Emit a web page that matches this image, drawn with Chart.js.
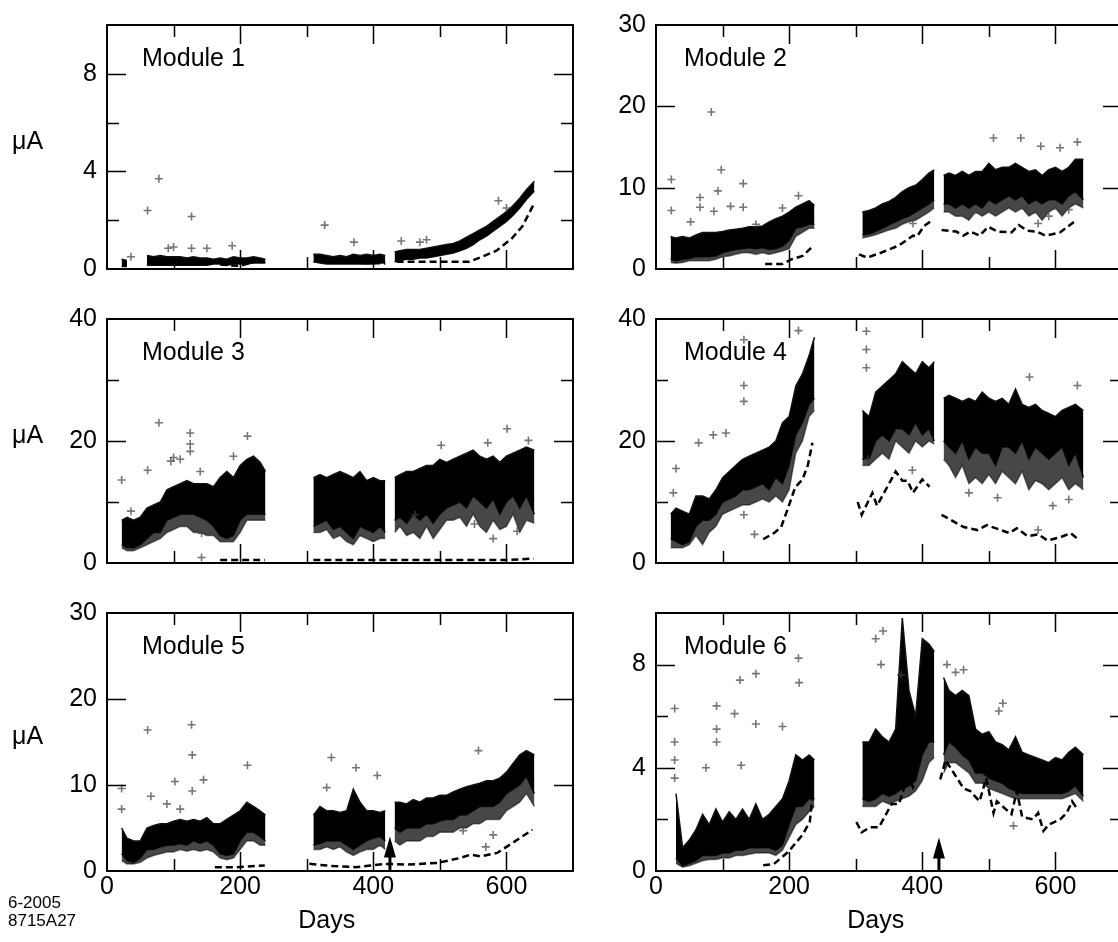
<!DOCTYPE html>
<html>
<head>
<meta charset="utf-8">
<script src="https://cdn.jsdelivr.net/npm/chart.js@4.4.1/dist/chart.umd.min.js"></script>
<style>
  html, body { margin: 0; padding: 0; background: #fff; overflow: hidden; }
  #wrap { position: relative; width: 1118px; height: 942px; overflow: hidden; }
  #wrap canvas { position: absolute; }
</style>
</head>
<body>
<div id="wrap"></div>
<script>
// sampling days for the dense bands (270 and 425 are gaps in the data)
const days = [22,30,40,50,60,70,80,90,100,110,120,130,140,150,160,170,180,190,200,210,220,230,238,
  270,
  310,320,330,340,350,360,370,380,390,400,410,418,
  425,
  432,440,450,460,470,480,490,500,510,520,530,540,550,560,570,580,590,600,610,620,630,642];

// Module 1
const m1Lo = [0.1,0.1,null,null,0.15,0.15,0.15,0.15,0.15,0.15,0.15,0.15,0.15,0.15,0.2,0.2,0.15,0.2,0.2,0.2,0.25,0.25,0.25,
  null,
  0.3,0.25,0.2,0.2,0.2,0.2,0.2,0.2,0.2,0.2,0.25,0.25,
  null,
  0.3,0.35,0.4,0.4,0.45,0.45,0.5,0.55,0.6,0.65,0.75,0.85,1.0,1.2,1.35,1.55,1.75,1.95,2.2,2.5,2.85,3.2];
const m1Hi = [0.4,0.35,null,null,0.55,0.5,0.55,0.5,0.5,0.5,0.45,0.5,0.45,0.45,0.4,0.45,0.4,0.5,0.45,0.45,0.5,0.45,0.4,
  null,
  0.6,0.6,0.55,0.5,0.55,0.5,0.6,0.55,0.6,0.55,0.6,0.55,
  null,
  0.7,0.75,0.8,0.8,0.8,0.85,0.9,0.95,1.0,1.05,1.15,1.3,1.45,1.6,1.75,1.95,2.15,2.35,2.6,2.9,3.25,3.6];
const m1Dip = null;
const m1OutDays = [61,78,127,92,100,127,150,188,327,371,442,588,600,36,470,480];
const m1OutVals = [2.4,3.7,2.15,0.85,0.9,0.85,0.85,0.95,1.8,1.1,1.15,2.8,2.5,0.5,1.1,1.2];
const m1DashDays = [170,185,200,215,236,270,318,330,345,360,380,400,418,425,435,460,490,520,544,563,585,608,624,640];
const m1DashVals = [0.18,0.15,0.13,0.25,0.4,null,0.33,0.4,0.35,0.3,0.25,0.25,0.22,null,0.3,0.3,0.3,0.3,0.3,0.5,0.75,1.25,1.75,2.6];

// Module 2
const m2Lo = [1.2,1.0,1.2,1.3,1.5,1.5,1.5,1.6,2.0,2.2,2.4,2.5,2.6,2.5,2.6,2.4,2.5,2.8,3.5,5.0,5.2,5.5,5.5,
  null,
  4.2,4.3,4.6,5.0,5.4,5.8,6.2,6.5,7.0,7.5,8.0,8.5,
  null,
  8.0,8.0,7.5,8.0,7.5,8.0,7.5,8.5,8.0,8.5,9.0,8.5,9.0,8.0,8.5,8.0,8.5,8.5,8.0,9.0,9.5,8.5];
const m2Hi = [4.0,3.8,4.0,3.8,4.2,4.5,4.5,4.5,4.6,4.8,4.9,5.0,5.2,5.2,5.3,5.8,6.2,6.5,7.0,7.6,8.0,8.4,7.8,
  null,
  7.0,7.2,7.5,8.0,8.3,8.8,9.5,10.0,10.3,11.0,11.8,12.2,
  null,
  11.5,11.8,11.5,12.0,11.5,12.0,12.0,13.0,12.2,12.5,12.5,13.0,12.5,12.0,12.2,11.5,12.2,12.5,12.0,12.5,13.5,13.5];
const m2Dip = [0.8,0.7,0.8,1.0,1.0,1.0,1.0,1.2,1.5,1.6,1.8,2.0,2.0,1.8,2.0,1.8,2.0,2.2,2.5,4.0,4.5,5.0,5.0,
  null,
  3.8,4.0,4.2,4.5,4.8,5.0,5.5,5.8,6.0,6.5,7.0,7.5,
  null,
  7.0,7.0,6.5,6.5,6.0,7.0,6.5,7.0,6.5,7.0,7.5,7.0,7.5,6.5,7.0,6.0,7.0,7.5,6.5,7.5,8.0,7.5];
const m2OutDays = [23,23,83,98,93,66,66,87,112,131,131,150,190,214,507,548,578,607,633,556,574,590,620,386,52];
const m2OutVals = [11,7.2,19.3,12.2,9.6,8.8,7.6,7.1,7.7,10.5,7.6,5.5,7.5,9,16.1,16.1,15.1,14.9,15.6,7.5,5.6,6.5,7.3,5.6,5.8];
const m2DashDays = [164,190,204,220,233,270,305,317,338,365,386,392,403,413,420,429,451,462,472,486,499,513,534,545,558,572,585,607,628];
const m2DashVals = [0.6,0.6,1.2,1.6,2.6,null,1.8,1.4,2.0,2.9,4.1,4.0,5.3,5.9,null,4.8,4.6,4.1,4.6,4.1,5.2,4.6,4.5,5.4,4.7,4.6,4.1,4.5,5.8];

// Module 3
const m3Lo = [3,2.5,2.5,3,4,5,5,7,7.5,8,8,8,7.5,7,6,4.5,4,4.5,7,8,8,8,8,
  null,
  6,6.5,7,5.5,6,5,4,6,5.5,5,6,5,
  null,
  7,7.5,6.5,8,7,8,6.5,8,9,9.5,10,9,11,10,9,10.5,8,10,11,9,11,8];
const m3Hi = [7,7.5,7,7.5,9,9.5,10,12,12.5,13,13.5,13,13,13,12.5,14,15,14,16,17,17.5,16.5,15,
  null,
  14,14.5,14,14.5,15,14.5,14,15,13.5,14,13.5,13.5,
  null,
  14,14.5,15,15,15.5,16,16,17,16.5,17,17.5,18,18.5,17.5,17,17.5,16.5,17.5,18,18.5,19,18.5];
const m3Dip = [2.5,2,2,2.5,3,3.5,4,5,5.5,6,6,5,5,4.5,4.5,3.5,3.5,3.5,5,7,7,7,7,
  null,
  5,5,5.5,4,4.5,3.5,3,4.5,4,3.5,4,4,
  null,
  5,6,4.5,5,4,6,4,5.5,7,7,7.5,6,8,6,5,7,5.5,6,8,5,7,6.5];
const m3OutDays = [22,78,61,96,125,125,125,140,211,36,142,142,502,572,601,633,552,580,616,463,110,190,100];
const m3OutVals = [13.6,23,15.2,16.7,21.3,19.5,18.3,15,20.8,8.5,4.9,0.9,19.3,19.7,22,20.1,6.4,4,5.2,7.9,17,17.5,17.3];
const m3DashDays = [170,237,270,310,400,500,600,620,641];
const m3DashVals = [0.5,0.5,null,0.5,0.5,0.5,0.5,0.6,0.75];

// Module 4
const m4Lo = [4,3.5,3,3.5,6,7,7,8,10,10.5,11,12,12,12.5,13,12,14,13,16,21,23,26,27,
  null,
  17,17,20,21,20,22,22,21,23,21,22,20,
  null,
  20,19,18,20,17,19,18,18,16,19,19,18,20,17,19,18,17,18,19,16,18,14];
const m4Hi = [8,9,8.5,8,11,11,10.5,12,14,15,16,17,17.5,18,18.5,19,20,23,24,29,31,34,37,
  null,
  25,24,28,29,30,31,33,32,31,33,32,33,
  null,
  27,27.5,27,26.5,27,26.5,28,27,26.5,27,26,28.5,26,25.5,26,25,24.5,24,25,25.5,26,25];
const m4Dip = [2.5,2.5,2.5,3,4.5,3,5,6,8,8.5,9,9.5,9.5,10,10.5,10,11,10,12,18,20,24,25,
  null,
  16,16,17,18,17,20,19,18,20,19,20,19.5,
  null,
  17,16,14,16,13,14,13,14.5,13,15,14,13,15,12,13.5,13,12,13,14,12,13,12];
const m4OutDays = [30,26,64,86,105,132,132,132,148,132,214,385,561,633,470,513,574,596,620,316,316,316,318];
const m4OutVals = [15.5,11.5,19.7,21,21.3,36.6,29.1,26.5,4.7,7.9,38.1,15.2,30.5,29.1,11.5,10.7,5.4,9.4,10.4,38,35,32,17];
const m4DashDays = [161,177,188,199,209,220,228,235,270,303,309,325,332,360,370,378,386,400,411,420,429,462,483,497,531,542,558,574,588,607,623,633];
const m4DashVals = [3.9,4.9,5.9,9.2,12.4,13.7,16,19.7,null,10,7.9,11.5,9.4,15,13.5,13.5,11.5,13.7,12.5,null,7.9,5.9,5.4,6.2,4.9,5.7,4.4,4.7,3.7,4.2,4.9,4.0];

// Module 5
const m5Lo = [2,1.2,1,1.5,2.5,2.5,2.8,3,3,3.2,3,3.5,3.2,3.5,3,2,1.8,2,3.5,4.5,4.5,4,3.5,
  null,
  3,3.2,3.5,3.5,3.5,3,2.5,3,3.5,3.8,4,3.5,
  null,
  5,4.5,5,5,5,5.5,5.5,5.8,6,6,6.5,6.5,7,7.5,7.5,7.5,8,9,9.5,10,11,9];
const m5Hi = [5,3.8,3.5,3.5,5,5.3,5.5,5.5,5.8,6,5.8,6,5.8,6.2,5.5,5.5,6,6.5,7,8,7.5,7,6.5,
  null,
  6.5,7.5,7,7,6.8,7,9.5,8,7,7,6.8,7,
  null,
  8,8,7.8,8.3,8,8.5,8.5,8.8,8.8,9.2,9.5,9.8,10,10.2,10.5,10.5,10.8,11.5,12.5,13.5,14,13.5];
const m5Dip = [1.2,0.8,0.8,1,1.5,1.8,2,2.2,2.2,2.5,2.3,2.5,2.3,2.5,2.2,1.5,1.3,1.5,2.5,3.5,3.5,3,3,
  null,
  2.5,2.5,2.8,2.5,2.8,2.2,1.8,2.2,2.5,2.5,3,2.5,
  null,
  3.5,3,3.5,3.5,3.5,4,4,4.5,4.5,4.5,5,5,5.5,5.5,6,6,6,7,7.5,8,9,7.5];
const m5OutDays = [22,22,61,127,128,128,102,145,66,211,337,330,374,406,558,535,569,580,90,110];
const m5OutVals = [9.6,7.2,16.4,17,13.5,9.3,10.4,10.6,8.7,12.3,13.2,9.7,12,11.1,14,4.7,2.8,4.2,7.8,7.2];
const m5DashDays = [162,195,237,270,304,340,374,396,418,452,496,530,546,561,586,608,639];
const m5DashVals = [0.45,0.45,0.64,null,0.83,0.57,0.45,0.64,0.83,0.75,0.94,1.5,1.9,1.7,2.1,3.2,4.8];

// Module 6
const m6Lo = [null,0.5,0.2,0.3,0.4,0.6,0.6,0.6,0.7,0.7,0.8,0.8,0.9,0.9,0.9,0.9,0.8,1,1.8,2.5,2.5,2.8,2.8,
  null,
  2.8,2.7,2.8,3,2.9,3,3.2,3.3,3.5,4.5,5,5,
  null,
  4.5,5,4.8,4.5,4.3,3.8,3.8,3.6,3.5,3.4,3.2,3.1,3,3,3,3,3,3,3,3.1,3.3,2.9];
const m6Hi = [null,3.0,0.9,1.2,1.6,2.2,1.8,2.4,1.9,2.3,2,2.4,2,2.6,2,2.2,2.5,2.8,3.5,4.5,4.3,4.5,4.3,
  null,
  5,5,5.5,5.2,5,5.5,9.8,7,6,9,8.8,8.5,
  null,
  7.5,7,6.8,7,6.8,5.5,5.3,5.4,5,4.9,4.7,5.2,4.6,4.5,4.4,4.3,4.2,4.4,4.3,4.6,4.8,4.5];
const m6Dip = [null,0.3,0.15,0.2,0.3,0.4,0.45,0.45,0.5,0.5,0.6,0.6,0.65,0.7,0.7,0.7,0.6,0.8,1.3,1.8,2,2.3,2.5,
  null,
  2.5,2.5,2.5,2.7,2.6,2.7,2.8,2.9,3.1,3.5,4.2,4.4,
  null,
  3.8,4.2,4.2,4,3.8,3.4,3.4,3.2,3.1,3.0,2.9,2.8,2.8,2.8,2.8,2.8,2.8,2.8,2.8,2.9,3,2.7];
const m6OutDays = [28,28,28,28,75,91,91,91,118,126,150,150,214,215,190,128,341,330,338,368,437,521,537,462,515,450];
const m6OutVals = [3.6,4.3,5.0,6.3,4,6.4,5.5,5,6.1,7.4,7.65,5.7,8.25,7.3,5.6,4.1,9.3,9.0,8.0,7.6,8.0,6.5,1.75,7.8,6.2,7.7];
const m6DashDays = [161,177,199,220,231,236,270,301,309,322,335,354,365,378,386,397,405,413,420,427,435,462,472,486,496,507,512,534,542,550,566,574,582,590,607,617,625,633];
const m6DashVals = [0.22,0.27,0.75,1.4,1.9,3.1,null,1.9,1.5,1.7,1.7,2.6,2.6,3.65,3.25,4.75,4.8,5.4,null,3.55,4.3,3.2,3.1,2.7,3.6,2.25,2.7,2.2,3.1,2.1,2.0,2.25,1.55,1.8,2.0,2.25,2.7,2.4];

// axis settings
const xTickLabels = [0, 200, 400, 600];
const arrowDay = 425;

const FONT = "'Liberation Sans', Arial, Helvetica, sans-serif";

const panels = [
  { name: 'Module 1', lo: m1Lo, hi: m1Hi, dip: m1Dip, outD: m1OutDays, outV: m1OutVals, dD: m1DashDays, dV: m1DashVals, yMax: 10, yStep: 2, yLabels: [0,4,8], col: 0, row: 0 },
  { name: 'Module 2', lo: m2Lo, hi: m2Hi, dip: m2Dip, outD: m2OutDays, outV: m2OutVals, dD: m2DashDays, dV: m2DashVals, yMax: 30, yStep: 10, yLabels: [0,10,20,30], col: 1, row: 0 },
  { name: 'Module 3', lo: m3Lo, hi: m3Hi, dip: m3Dip, outD: m3OutDays, outV: m3OutVals, dD: m3DashDays, dV: m3DashVals, yMax: 40, yStep: 10, yLabels: [0,20,40], col: 0, row: 1 },
  { name: 'Module 4', lo: m4Lo, hi: m4Hi, dip: m4Dip, outD: m4OutDays, outV: m4OutVals, dD: m4DashDays, dV: m4DashVals, yMax: 40, yStep: 10, yLabels: [0,20,40], col: 1, row: 1 },
  { name: 'Module 5', lo: m5Lo, hi: m5Hi, dip: m5Dip, outD: m5OutDays, outV: m5OutVals, dD: m5DashDays, dV: m5DashVals, yMax: 30, yStep: 10, yLabels: [0,10,20,30], col: 0, row: 2, arrowTop: 4.0 },
  { name: 'Module 6', lo: m6Lo, hi: m6Hi, dip: m6Dip, outD: m6OutDays, outV: m6OutVals, dD: m6DashDays, dV: m6DashVals, yMax: 10, yStep: 2, yLabels: [0,4,8], col: 1, row: 2, arrowTop: 1.3 }
];

// canvas placement
const cols = [
  { left: 0, width: 580, yWidth: 107, padRight: 7, nameDx: 35 },
  { left: 580, width: 550, yWidth: 76, padRight: 8, nameDx: 28 }
];
const rows = [
  { top: 0, height: 294, padTop: 15, xHeight: 15 },
  { top: 294, height: 294, padTop: 14, xHeight: 15 },
  { top: 588, height: 354, padTop: 17, xHeight: 71 }
];

function pts(xs, ys) {
  return xs.map((x, i) => ({ x: x, y: ys[i] }));
}

// frame, inward ticks, panel text and arrows
const framePlugin = {
  id: 'frame',
  afterDatasetsDraw(chart, args, o) {
    const ctx = chart.ctx;
    const a = chart.chartArea;
    const x = chart.scales.x, y = chart.scales.y;
    ctx.save();
    ctx.strokeStyle = '#000';
    ctx.lineWidth = 1.5;
    ctx.beginPath();
    y.ticks.forEach(t => {
      if (t.value <= 0 || t.value >= o.yMax) return;
      const py = Math.round(y.getPixelForValue(t.value)) + 0.5;
      const len = o.yLabels.includes(t.value) ? 19 : 12;
      ctx.moveTo(a.left, py); ctx.lineTo(a.left + len, py);
      ctx.moveTo(a.right, py); ctx.lineTo(a.right - len, py);
    });
    x.ticks.forEach(t => {
      if (t.value <= 0 || t.value >= 700) return;
      const px = Math.round(x.getPixelForValue(t.value)) + 0.5;
      const len = t.value % 200 === 0 ? 19 : 12;
      ctx.moveTo(px, a.top); ctx.lineTo(px, a.top + len);
      ctx.moveTo(px, a.bottom); ctx.lineTo(px, a.bottom - len);
    });
    ctx.stroke();
    ctx.lineWidth = 2;
    ctx.strokeRect(a.left, a.top, a.right - a.left, a.bottom - a.top);

    ctx.fillStyle = '#000';
    ctx.font = '25px ' + FONT;
    ctx.textBaseline = 'middle';
    ctx.textAlign = 'left';
    ctx.fillText(o.name, a.left + o.nameDx, a.top + 34);
    if (o.col === 0) {
      ctx.fillText('\u03BCA', 12, a.top + (a.bottom - a.top) * 0.48);
    }
    if (o.row === 2) {
      ctx.textAlign = 'center';
      ctx.fillText('Days', x.getPixelForValue(330), a.bottom + 50);
      if (o.col === 0) {
        ctx.textAlign = 'left';
        ctx.font = '17px ' + FONT;
        ctx.fillText('6-2005', 8, a.bottom + 32);
        ctx.fillText('8715A27', 8, a.bottom + 50);
      }
    }
    if (o.arrowTop !== undefined) {
      const ax = x.getPixelForValue(arrowDay);
      const top = y.getPixelForValue(o.arrowTop);
      ctx.lineWidth = 3;
      ctx.beginPath();
      ctx.moveTo(ax, a.bottom);
      ctx.lineTo(ax, top + 16);
      ctx.stroke();
      ctx.beginPath();
      ctx.moveTo(ax, top);
      ctx.lineTo(ax - 6, top + 21);
      ctx.lineTo(ax + 6, top + 21);
      ctx.closePath();
      ctx.fill();
    }
    ctx.restore();
  }
};

const wrap = document.getElementById('wrap');

panels.forEach(p => {
  const c = cols[p.col], r = rows[p.row];
  const canvas = document.createElement('canvas');
  canvas.width = c.width; canvas.height = r.height;
  canvas.style.left = c.left + 'px';
  canvas.style.top = r.top + 'px';
  canvas.style.width = c.width + 'px';
  canvas.style.height = r.height + 'px';
  wrap.appendChild(canvas);

  const datasets = [
    {
      data: pts(p.dD, p.dV),
      borderColor: '#000', borderWidth: 2.5, borderDash: [7, 4],
      pointRadius: 0, fill: false, spanGaps: false, tension: 0
    },
    {
      type: 'scatter',
      data: pts(p.outD, p.outV),
      pointStyle: 'cross', pointRadius: 4, borderWidth: 1.6,
      borderColor: 'rgba(60,60,60,0.7)', showLine: false
    },
    {
      data: pts(days, p.hi),
      borderColor: '#111', borderWidth: 1.5, backgroundColor: '#000',
      pointRadius: 0, fill: '+1', spanGaps: false, tension: 0
    },
    {
      data: pts(days, p.lo),
      borderColor: '#111', borderWidth: 1.5, backgroundColor: 'rgba(0,0,0,0.72)',
      pointRadius: 0, fill: p.dip ? '+1' : false, spanGaps: false, tension: 0
    }
  ];
  if (p.dip) {
    datasets.push({
      data: pts(days, p.dip),
      borderColor: 'rgba(0,0,0,0.5)', borderWidth: 1.5,
      pointRadius: 0, fill: false, spanGaps: false, tension: 0
    });
  }

  new Chart(canvas, {
    type: 'line',
    data: { datasets: datasets },
    options: {
      responsive: false,
      animation: false,
      devicePixelRatio: 1,
      layout: { padding: { top: r.padTop, right: c.padRight, left: 0, bottom: 0 } },
      plugins: {
        legend: { display: false },
        tooltip: { enabled: false },
        frame: { name: p.name, yMax: p.yMax, yLabels: p.yLabels, col: p.col, row: p.row, nameDx: c.nameDx, arrowTop: p.arrowTop }
      },
      scales: {
        x: {
          type: 'linear', min: 0, max: 700,
          grid: { display: false, drawTicks: false },
          border: { display: false },
          afterFit: s => { s.height = r.xHeight; },
          ticks: {
            display: p.row === 2,
            stepSize: 100, autoSkip: false, maxRotation: 0, padding: 1,
            color: '#000', font: { family: FONT, size: 25 },
            callback: v => xTickLabels.includes(v) ? String(v) : ''
          }
        },
        y: {
          min: 0, max: p.yMax,
          grid: { display: false, drawTicks: false },
          border: { display: false },
          afterFit: s => { s.width = c.yWidth; },
          ticks: {
            stepSize: p.yStep, autoSkip: false, padding: 10,
            color: '#000', font: { family: FONT, size: 25 },
            callback: v => p.yLabels.includes(v) ? String(v) : ''
          }
        }
      }
    },
    plugins: [framePlugin]
  });
});
</script>
</body>
</html>
